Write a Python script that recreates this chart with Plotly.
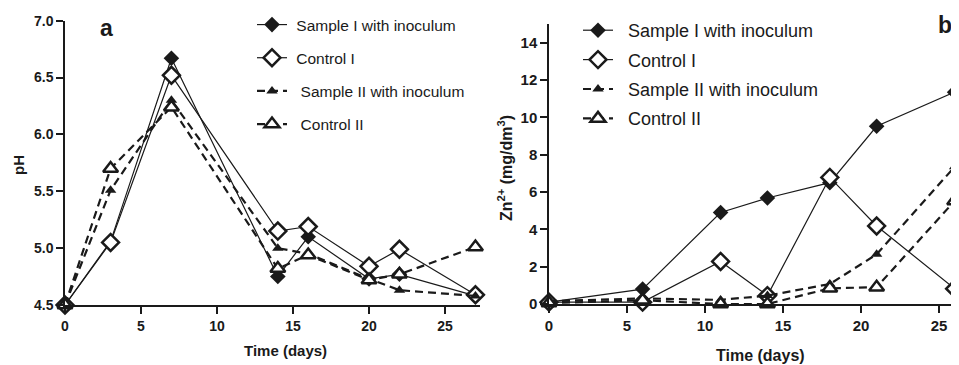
import plotly.graph_objects as go

# ---------------- data ----------------
days_a = [0, 3, 7, 14, 16, 20, 22, 27]
ph_sample1 = [4.50, 5.06, 6.67, 4.75, 5.10, 4.73, 4.77, 4.58]
ph_control1 = [4.50, 5.05, 6.52, 5.15, 5.19, 4.84, 4.99, 4.59]
ph_sample2 = [4.50, 5.51, 6.30, 5.00, 4.95, 4.73, 4.63, 4.58]
ph_control2 = [4.50, 5.70, 6.24, 4.82, 4.94, 4.72, 4.77, 5.01]

days_b = [0, 6, 11, 14, 18, 21, 26]
zn_sample1 = [0.10, 0.80, 4.90, 5.68, 6.50, 9.52, 11.35]
zn_control1 = [0.10, 0.10, 2.28, 0.45, 6.78, 4.18, 0.82]
zn_sample2 = [0.15, 0.30, 0.22, 0.45, 1.07, 2.66, 7.35]
zn_control2 = [0.05, 0.20, 0.00, 0.00, 0.84, 0.90, 5.52]

names = ["Sample I with inoculum", "Control I", "Sample II with inoculum", "Control II"]
ticks_a_x = [0, 5, 10, 15, 20, 25]
ticks_a_y = [4.5, 5.0, 5.5, 6.0, 6.5, 7.0]
ticks_b_x = [0, 5, 10, 15, 20, 25]
ticks_b_y = [0, 2, 4, 6, 8, 10, 12, 14]

# the page body has an 8px margin, so the figure sits at (8, 8) in the window
OFF = 8
W, H = 959 - OFF, 365 - OFF
INK = "#1a1a1a"
FONT = "Liberation Sans, Arial, sans-serif"

styles = [
    dict(line=dict(color=INK, width=1.2), marker=dict(symbol="diamond", size=12, color=INK)),
    dict(line=dict(color=INK, width=1.2), marker=dict(symbol="diamond", size=13, color="white", line=dict(color=INK, width=2.5))),
    dict(line=dict(color=INK, width=2.2, dash="8px,5px"), marker=dict(symbol="triangle-up", size=10, color=INK)),
    dict(line=dict(color=INK, width=2.2, dash="8px,5px"), marker=dict(symbol="triangle-up", size=13, color="white", line=dict(color=INK, width=2.5))),
]

fig = go.Figure()
series_a = [ph_sample1, ph_control1, ph_sample2, ph_control2]
series_b = [zn_sample1, zn_control1, zn_sample2, zn_control2]
lead_a = [" ", " ", "  ", "  "]
for i in range(4):
    fig.add_trace(go.Scatter(x=days_a, y=series_a[i], mode="lines+markers", name=lead_a[i] + names[i],
                             xaxis="x", yaxis="y", cliponaxis=False, legend="legend",
                             legendgroup="a%d" % i, **styles[i]))
for i in range(4):
    fig.add_trace(go.Scatter(x=days_b, y=series_b[i], mode="lines+markers", name="  " + names[i],
                             xaxis="x2", yaxis="y2", cliponaxis=False, legend="legend2",
                             legendgroup="b%d" % i, **styles[i]))

def px_x(p):
    return (p - OFF) / W

def px_y(p):
    return 1 - (p - OFF) / H

axis_common = dict(showline=True, linecolor=INK, linewidth=1.5, ticks="outside", ticklen=7,
                   tickwidth=1.5, tickcolor=INK, showgrid=False, zeroline=False, automargin=False)

def label(text, x, y, size, angle=0):
    return dict(text=text, x=px_x(x), y=px_y(y), xref="paper", yref="paper", showarrow=False,
                xanchor="center", yanchor="middle", textangle=angle,
                font=dict(size=size, weight="bold", family=FONT, color=INK))

fig.update_layout(
    template="none",
    width=W, height=H, margin=dict(l=0, r=0, t=0, b=0, autoexpand=False),
    paper_bgcolor="white", plot_bgcolor="white",
    font=dict(family=FONT, color=INK),
    xaxis=dict(domain=[px_x(65), px_x(480)], range=[0, 27.3], anchor="y", tickvals=ticks_a_x,
               tickfont=dict(size=14, weight="bold"), **axis_common),
    yaxis=dict(domain=[px_y(305), px_y(20.7)], range=[4.5, 7.0], anchor="x", tickvals=ticks_a_y,
               tickformat=".1f", tickfont=dict(size=14, weight="bold"), **axis_common),
    xaxis2=dict(domain=[px_x(549), 1.0], range=[0, 26.28], anchor="y2", tickvals=ticks_b_x,
                tickfont=dict(size=15, weight="bold"), **axis_common),
    yaxis2=dict(domain=[px_y(304), px_y(24)], range=[0, 15], anchor="x2", tickvals=ticks_b_y,
                tickfont=dict(size=15, weight="bold"), **axis_common),
    legend=dict(x=px_x(252), y=px_y(8), xanchor="left", yanchor="top", bgcolor="rgba(0,0,0,0)",
                font=dict(size=15.5, family=FONT, color=INK), tracegroupgap=10, itemwidth=30),
    legend2=dict(x=px_x(578), y=px_y(12), xanchor="left", yanchor="top", bgcolor="rgba(0,0,0,0)",
                 font=dict(size=18, family=FONT, color=INK), tracegroupgap=3, itemwidth=30),
    annotations=[
        label("a", 106, 28, 23),
        label("b", 945, 25, 23),
        label("Time (days)", 285, 350, 15),
        label("Time (days)", 760, 355, 16),
        label("pH", 18, 165, 15, -90),
        label("Zn<sup>2+</sup> (mg/dm<sup>3</sup>)", 505, 168, 16, -90),
    ],
)

fig.write_html("out.html")
